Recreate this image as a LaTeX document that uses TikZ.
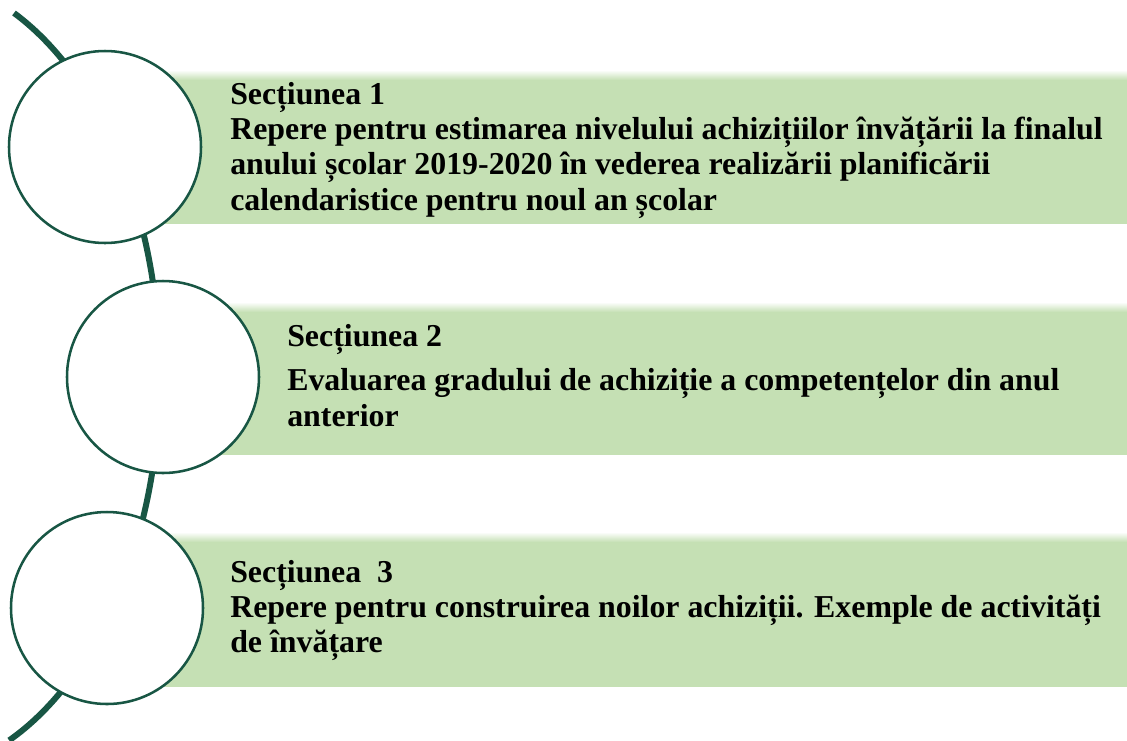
\documentclass[tikz,border=0pt]{standalone}
\usepackage{fontspec}
\setmainfont{Liberation Serif}

\definecolor{boxgreen}{RGB}{197,224,180}
\definecolor{linegreen}{RGB}{24,86,68}

\tikzset{
  ring/.style={circle,draw=linegreen,line width=1.9pt,fill=white,minimum size=144pt,inner sep=0pt},
  sectext/.style={anchor=base west,inner sep=0pt,font=\bfseries\fontsize{23.9}{26.6}\selectfont},
}
\newcommand{\seclines}[1]{\begin{tabular}[t]{@{}l@{}}#1\end{tabular}}

\begin{document}
\begin{tikzpicture}[x=0.75pt,y=-0.75pt]

\useasboundingbox (0,0) rectangle (1127,740);

% the long arc behind the circles
\draw[line width=4.5pt,color=linegreen] (14,13) arc[start angle=64.8,end angle=-66,x radius=190.5pt,y radius=300pt];

% green bars
\fill[color=boxgreen] (105,70) rectangle (1127,224);
\fill[color=boxgreen] (163,302) rectangle (1127,455);
\fill[color=boxgreen] (107,532) rectangle (1127,687);

\shade[top color=white,bottom color=boxgreen] (105,70) rectangle (1127,80);
\shade[top color=white,bottom color=boxgreen] (163,302) rectangle (1127,312);
\shade[top color=white,bottom color=boxgreen] (107,532) rectangle (1127,542);

% circles
\node[ring] (c1) at (105,147) {};
\node[ring] (c2) at (163,377) {};
\node[ring] (c3) at (107,608) {};

% texts
\node[sectext] (t1) at (230,104) {\seclines{Secțiunea 1\\
Repere pentru estimarea nivelului achizițiilor învățării la finalul\\
anului școlar 2019-2020 în vederea realizării planificării\\
calendaristice pentru noul an școlar}};

\node[sectext] (t2) at (287,346) {\seclines{Secțiunea 2\\[7pt]
Evaluarea gradului de achiziție a competențelor din anul\\
anterior}};

\node[sectext] (t3) at (230,582) {\seclines{Secțiunea \ 3\\
Repere pentru construirea noilor achiziții. Exemple de activități\\
de învățare}};

\end{tikzpicture}
\end{document}
